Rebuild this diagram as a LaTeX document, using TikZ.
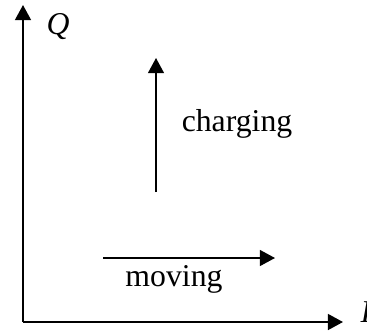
\documentclass[tikz,border=0pt]{standalone}
\usepackage{fontspec}
\setmainfont{Liberation Serif}
\usetikzlibrary{arrows.meta,positioning}

\begin{document}
\begin{tikzpicture}[
  x=0.378pt,y=-0.378pt,
  lbl/.style={inner sep=0pt,font=\fontsize{12}{14}\selectfont},
  axis/.style={-{Triangle[length=5.7pt,width=6pt]},line width=0.75pt},
  arr/.style={-{Triangle[length=5.7pt,width=6pt]},line width=0.6pt}
]
\useasboundingbox (0,0) rectangle (367,332);

% axes
\coordinate (O) at (23,322);
\coordinate (Qtip) at (23,5);
\coordinate (Itip) at (343,322);
\draw[axis] (O) -- (Qtip);
\draw[axis] (O) -- (Itip);
\node[lbl] (Q) at (58,27) {\textit{Q}};
\node[lbl,anchor=base west] (I) at (360,322) {\textit{I}};

% charging
\coordinate (c0) at (156,192);
\coordinate (c1) at (156,58);
\draw[arr] (c0) -- (c1);
\node[lbl] (charge) at (237,124) {charging};

% moving
\coordinate (m0) at (103,258);
\coordinate (m1) at (275,258);
\draw[arr] (m0) -- (m1);
\node[lbl] (move) at (174,279) {moving};
\end{tikzpicture}
\end{document}
